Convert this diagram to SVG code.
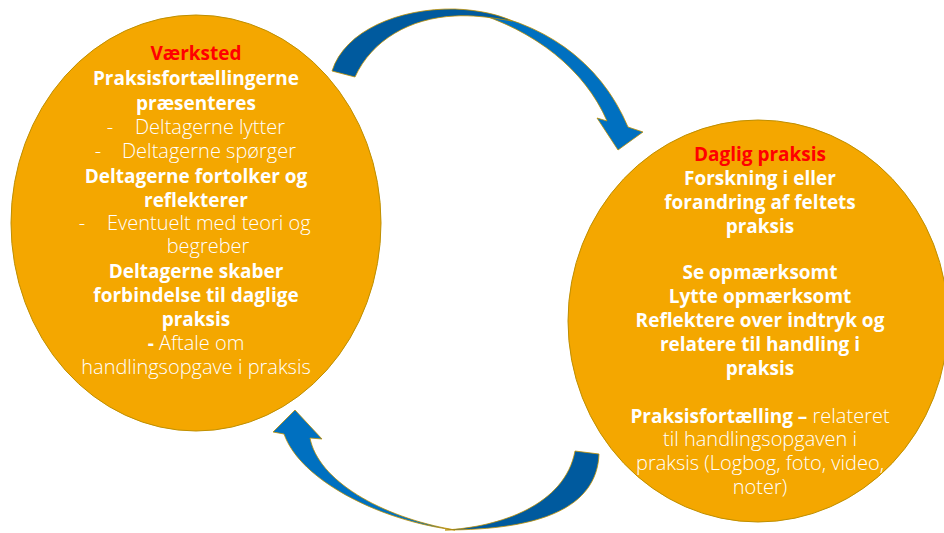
<svg xmlns="http://www.w3.org/2000/svg" width="944" height="533" viewBox="0 0 944 533">
<style>
.node{fill:#F4A700;stroke:#BF8F00;stroke-width:1}
.t{font-family:"Open Sans","Liberation Sans",sans-serif;font-size:19px;fill:#FFFFFF;text-anchor:middle}
.s{text-anchor:start}
.b{font-weight:700}
.l{font-weight:300;font-size:20px}
.red{fill:#FF0000;font-weight:700}
.dark{fill:#005A9E;stroke:#BF8F00;stroke-width:0.8}
.light{fill:#0070C0;stroke:#BF8F00;stroke-width:0.8}
</style>
<rect width="944" height="533" fill="#FFFFFF"/>
<g id="connectors">
  <g id="arrow-top">
    <path class="light" d="M470,11 C540,20 600,60 628,127 L643,132 L618,150 L597,118 L607,121 C585,70 535,30 470,11 Z"/>
    <path class="dark" d="M332,71 C345,30 400,8 455,9 C480,10 500,15 512,21 C490,17 470,15 455,16 C410,18 372,40 355,77 Z"/>
  </g>
  <g id="arrow-bottom">
    <path class="light" d="M455,530 C380,521 300,480 284,434 L273,432 L295,410 L322,439 L310,438 C318,480 380,517 455,530 Z"/>
    <path class="dark" d="M599,454 C597,508 540,530 445,530 C500,527 565,505 575,451 Z"/>
  </g>
</g>
<g id="node-vaerksted">
  <ellipse class="node" cx="196" cy="223" rx="185" ry="208"/>
  <text class="t red" x="196" y="60">Værksted</text>
  <text class="t b" x="196" y="85">Praksisfortællingerne</text>
  <text class="t b" x="196" y="110">præsenteres</text>
  <text class="t l" x="110" y="134">-</text>
  <text class="t l s" x="135" y="134">Deltagerne lytter</text>
  <text class="t l" x="98" y="158">-</text>
  <text class="t l s" x="122" y="158">Deltagerne spørger</text>
  <text class="t b" x="196" y="183">Deltagerne fortolker og</text>
  <text class="t b" x="196" y="207">reflekterer</text>
  <text class="t l" x="82" y="230">-</text>
  <text class="t l s" x="107" y="230">Eventuelt med teori og</text>
  <text class="t l" x="208" y="253">begreber</text>
  <text class="t b" x="196" y="278">Deltagerne skaber</text>
  <text class="t b" x="196" y="302">forbindelse til daglige</text>
  <text class="t b" x="196" y="326">praksis</text>
  <text class="t" x="196" y="350"><tspan class="b">-</tspan><tspan class="l"> Aftale om</tspan></text>
  <text class="t l" x="196" y="374">handlingsopgave i praksis</text>
</g>
<g id="node-daglig-praksis">
  <ellipse class="node" cx="758" cy="321" rx="190" ry="201"/>
  <text class="t red" x="760" y="161">Daglig praksis</text>
  <text class="t b" x="760" y="185">Forskning i eller</text>
  <text class="t b" x="760" y="209">forandring af feltets</text>
  <text class="t b" x="760" y="233">praksis</text>
  <text class="t b" x="760" y="279">Se opmærksomt</text>
  <text class="t b" x="760" y="303">Lytte opmærksomt</text>
  <text class="t b" x="760" y="327">Reflektere over indtryk og</text>
  <text class="t b" x="760" y="351">relatere til handling i</text>
  <text class="t b" x="760" y="375">praksis</text>
  <text class="t" x="760" y="423"><tspan class="b">Praksisfortælling –</tspan><tspan class="l"> relateret</tspan></text>
  <text class="t l" x="760" y="446">til handlingsopgaven i</text>
  <text class="t l" x="760" y="470">praksis (Logbog, foto, video,</text>
  <text class="t l" x="760" y="494">noter)</text>
</g>
</svg>
